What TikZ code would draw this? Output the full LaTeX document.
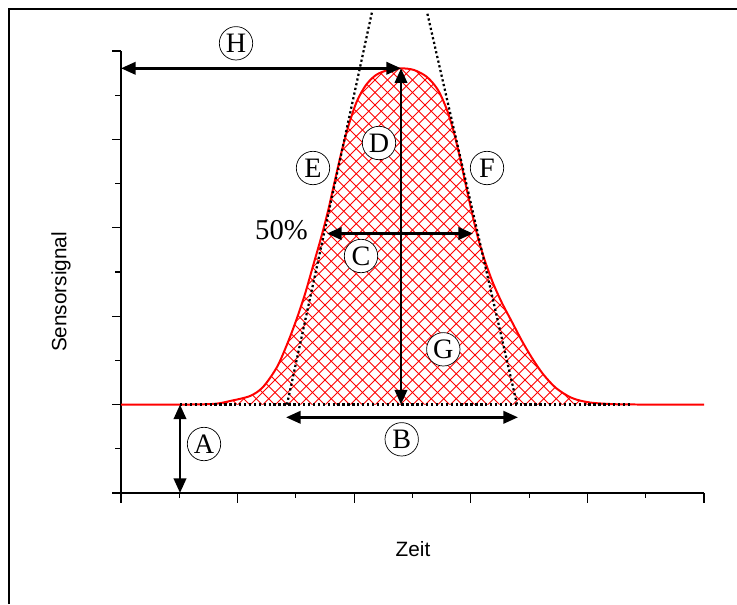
\documentclass[tikz,border=0pt]{standalone}
\usepackage{fontspec}
\setmainfont{Liberation Serif}
\setsansfont{Liberation Sans}
\usepackage{xcolor}
\usepackage{tikz}
\usetikzlibrary{arrows.meta}
\definecolor{inkK}{HTML}{000000}
\definecolor{cPeak}{HTML}{FF0000}

\tikzset{
  letterbox/.style={draw=inkK, fill=white, circle, line width=0.6pt,
                    minimum size=28.5pt, inner sep=0pt,
                    font=\fontsize{24}{26}\selectfont},
  dimarrow/.style={draw=inkK, line width=2.4pt,
                   {Triangle[length=12.5pt,width=10.5pt]}-{Triangle[length=12.5pt,width=10.5pt]}},
  guideline/.style={draw=inkK, line width=1.9pt, dash pattern=on 1.9pt off 2.2pt},
  axisline/.style={draw=inkK, line width=0.9pt},
  hatchline/.style={draw=cPeak, line width=0.75pt},
}

\begin{document}
\begin{tikzpicture}[x=0.03cm, y=-0.03cm]
  \useasboundingbox (0,0) rectangle (737,604);
  % frame
  \draw[line width=1.7pt] (9,604) -- (9,9) -- (737,9);

  % axes and ticks
  \draw[axisline] (121,51) -- (121,493) -- (704,493);
  \foreach \i in {0,2,...,10} \draw[axisline] (121,493-\i*44.2) -- ++(-9,0);
  \foreach \i in {1,3,...,9}  \draw[axisline] (121,493-\i*44.2) -- ++(-6,0);
  \foreach \i in {0,2,...,10} \draw[axisline] (121+\i*58.3,493) -- ++(0,10);
  \foreach \i in {1,3,...,9}  \draw[axisline] (121+\i*58.3,493) -- ++(0,5);

  % key points
  \coordinate (peak) at (401,68.3);
  \coordinate (base) at (401,404.5);
  \coordinate (hLeft) at (121,68.3);
  \coordinate (cLeft) at (327,233.5);
  \coordinate (cRight) at (473,233.5);
  \coordinate (bLeft) at (286,417.3);
  \coordinate (bRight) at (518,417.3);
  \coordinate (aTop) at (180,404.5);
  \coordinate (aBot) at (180,493);
  \coordinate (tailEnd) at (630,404.5);
  \coordinate (eFoot) at (287,404.5);
  \coordinate (eTop) at (372,12);
  \coordinate (fFoot) at (517,404.5);
  \coordinate (fTop) at (427,12);

  % signal peak
  \path[save path=\peakpath]
    (121,404.5) -- (190,404.5)
    plot[smooth, tension=0.5] coordinates {
      (190,404.5) (215,403.8) (230,401) (250,396) (263,387) (277,367)
      (288,342) (297,318) (305,294) (313,266) (321,238) (328,211)
      (335,180) (342,150) (349,124) (357,101) (366,85) (376,75)
      (388,70) (401,68.3) (414,70) (427,77) (438,90) (447,110)
      (454,133) (460,158) (466,186) (472,213) (478,238) (485,261)
      (493,283) (502,303) (512,322) (522,341) (532,358) (543,374)
      (556,388) (572,398) (590,402.5) (615,404.2) (640,404.5)}
    -- (704,404.5);
  \begin{scope}
    \clip[use path=\peakpath];
    \foreach \k in {-300,-287.5,...,900} {
      \draw[hatchline] (\k,405) -- ++(345,-345);
      \draw[hatchline] (\k,405) -- ++(-345,-345);
    }
  \end{scope}
  \draw[cPeak, line width=1.7pt, use path=\peakpath];

  % baseline and tangents
  \draw[draw=inkK, line width=2pt, dash pattern=on 2pt off 2.2pt] (aTop) -- (tailEnd);
  \draw[guideline] (eFoot) -- (eTop);
  \draw[guideline] (fFoot) -- (fTop);

  % dimensions
  \draw[dimarrow] (hLeft) -- (peak);
  \draw[dimarrow] (peak) -- (base);
  \draw[dimarrow] (cLeft) -- (cRight);
  \draw[dimarrow] (bLeft) -- (bRight);
  \draw[dimarrow] (aTop) -- (aBot);

  % labels
  \node[letterbox] (lblH) at (236,43.3) {H};
  \node[letterbox] (lblD) at (379,143) {D};
  \node[letterbox] (lblE) at (313,168) {E};
  \node[letterbox] (lblF) at (487,168) {F};
  \node[letterbox] (lblC) at (361,256) {C};
  \node[letterbox] (lblG) at (443.3,349.3) {G};
  \node[letterbox] (lblB) at (401.7,439.3) {B};
  \node[letterbox] (lblA) at (204,444) {A};
  \node[font=\fontsize{24.5}{28}\selectfont, inner sep=0pt] (pct) at (281.5,230.5) {50\%};
  \node[font=\sffamily\fontsize{17.7}{20}\selectfont, rotate=90, inner sep=0pt] (ylab) at (61,292) {Sensorsignal};
  \node[font=\sffamily\fontsize{17.7}{20}\selectfont, inner sep=0pt] (xlab) at (413,549) {Zeit};
\end{tikzpicture}
\end{document}
